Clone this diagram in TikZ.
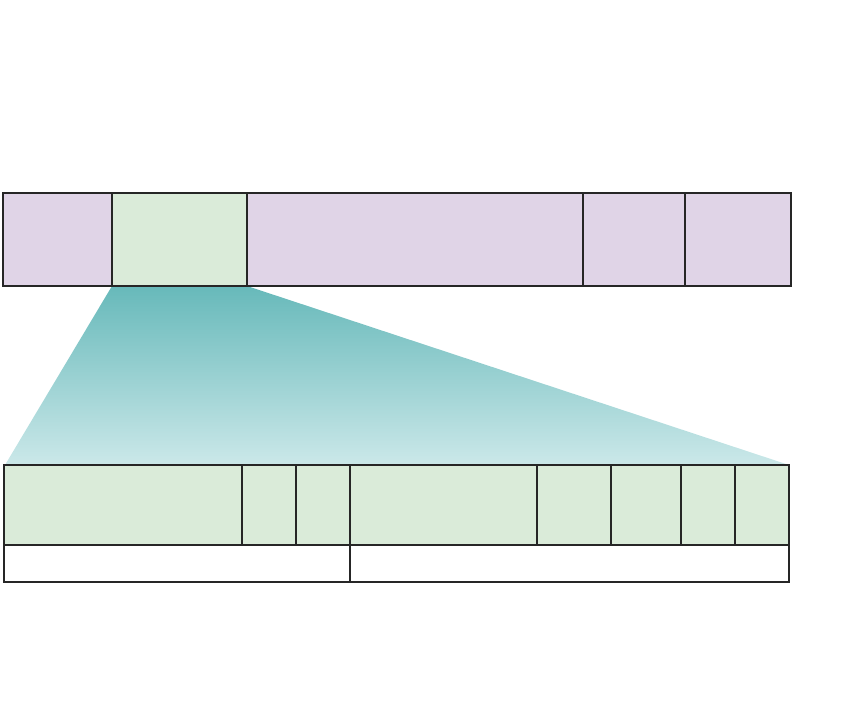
\documentclass[tikz,border=0pt]{standalone}
\usetikzlibrary{shadings}
\definecolor{lav}{HTML}{E0D4E7}
\definecolor{mint}{HTML}{DAEBD9}
\definecolor{tealtop}{HTML}{67B9BA}
\definecolor{tealbot}{HTML}{CBE8E9}
\tikzset{cell/.style={draw=black!85,line width=1.3pt}}
\begin{document}
\begin{tikzpicture}[x=1pt,y=-1pt]
\useasboundingbox (0,0) rectangle (849,723);
% zoom trapezoid
\shade[top color=tealtop,bottom color=tealbot] (112,286) -- (247,286) -- (789,465) -- (5,465) -- cycle;
% top row
\foreach \a/\b/\c in {3/112/lav,112/247/mint,247/583/lav,583/685/lav,685/791/lav}
  \draw[cell,fill=\c] (\a,193) rectangle (\b,286);
% bottom row
\foreach \a/\b in {4/242,242/296,296/350,350/537,537/611,611/681,681/735,735/789}
  \draw[cell,fill=mint] (\a,465) rectangle (\b,545);
% white row
\foreach \a/\b in {4/350,350/789}
  \draw[cell,fill=white] (\a,545) rectangle (\b,582);
\end{tikzpicture}
\end{document}
